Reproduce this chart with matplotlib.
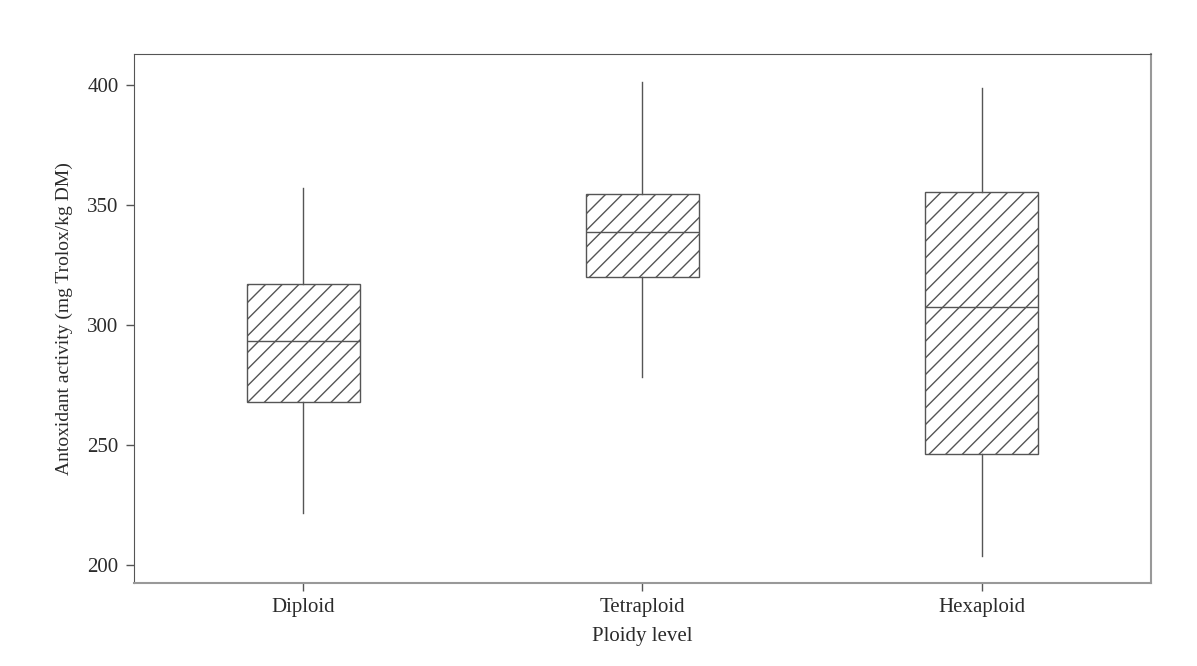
import matplotlib
matplotlib.use("Agg")
import matplotlib.pyplot as plt

# values
groups = ["Diploid", "Tetraploid", "Hexaploid"]
whisker_low = [221.7, 278.3, 203.8]
q1 = [267.8, 319.9, 246.3]
median = [293.3, 338.9, 307.5]
q3 = [317.0, 354.5, 355.4]
whisker_high = [357.1, 401.2, 398.9]
y_ticks = [200, 250, 300, 350, 400]

LINE = "#555555"
TEXT = "#2b2b2b"

plt.rcParams["font.family"] = ["Liberation Serif", "DejaVu Serif"]
plt.rcParams["hatch.linewidth"] = 1.0


def build_stats():
    stats = []
    for i, name in enumerate(groups):
        stats.append({
            "label": name,
            "whislo": whisker_low[i],
            "q1": q1[i],
            "med": median[i],
            "q3": q3[i],
            "whishi": whisker_high[i],
            "fliers": [],
        })
    return stats


def main():
    fig = plt.figure(figsize=(11.97, 6.66), dpi=100)
    ax = fig.add_axes([0.1119, 0.1246, 0.8497, 0.7943])

    bp = ax.bxp(
        build_stats(),
        positions=[1, 2, 3],
        widths=0.334,
        patch_artist=True,
        showcaps=False,
        showfliers=False,
        boxprops=dict(facecolor="white", edgecolor=LINE, linewidth=1.0),
        medianprops=dict(color=LINE, linewidth=1.0),
        whiskerprops=dict(color=LINE, linewidth=1.0),
    )
    for box in bp["boxes"]:
        box.set_hatch("//")

    ax.set_xlim(0.5, 3.5)
    ax.set_ylim(192.5, 412.9)
    ax.set_yticks(y_ticks)
    ax.set_xticks([1, 2, 3])
    ax.set_xticklabels(groups)

    ax.tick_params(axis="both", direction="out", length=6, width=1,
                   color=LINE, labelcolor=TEXT, labelsize=15, pad=5)
    for side in ["left", "top"]:
        ax.spines[side].set_color(LINE)
    for side in ["right", "bottom"]:
        ax.spines[side].set_color("#999999")
        ax.spines[side].set_linewidth(1.5)

    ax.set_xlabel("Ploidy level", fontsize=15, color=TEXT, labelpad=7)
    ax.set_ylabel("Antoxidant activity (mg Trolox/kg DM)", fontsize=14,
                  color=TEXT, labelpad=10)

    fig.savefig("out.png", dpi=100)
    plt.close(fig)


if __name__ == "__main__":
    main()
